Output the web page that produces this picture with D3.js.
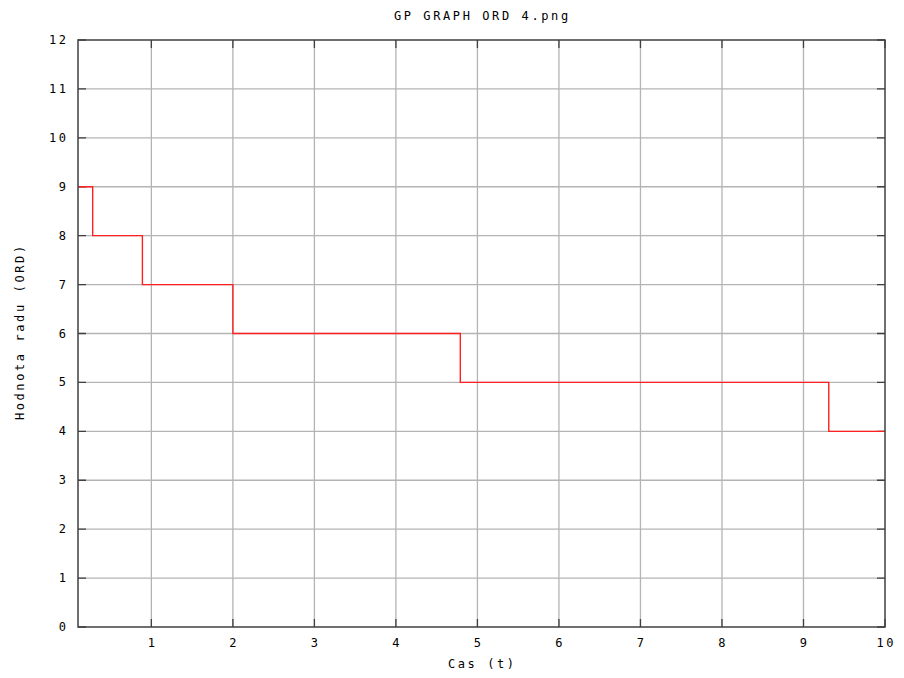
<!DOCTYPE html>
<html><head><meta charset="utf-8">
<script src="https://cdn.jsdelivr.net/npm/d3@7"></script>
<style>body{margin:0;background:#fff}svg{display:block}text{font-family:"DejaVu Sans Mono","Liberation Mono",monospace;font-size:12px;letter-spacing:2.6px;fill:#000}</style>
</head><body><svg id="c" width="904" height="678"></svg>
<script>
const title = "GP GRAPH ORD 4.png";
const xLabel = "Cas (t)";
const yLabel = "Hodnota radu (ORD)";
const stepTimes = [0.1, 0.28, 0.89, 2.0, 4.79, 9.31, 10];
const stepValues = [9, 8, 7, 6, 5, 4, 4];
const xTicks = [1,2,3,4,5,6,7,8,9,10];
const yTicks = [0,1,2,3,4,5,6,7,8,9,10,11,12];

const svg = d3.select("#c");
const L=78, R=885, T=40, B=627;
const ls = 2.6;
const x = d3.scaleLinear().domain([0.1,10]).range([L,R]);
const y = d3.scaleLinear().domain([0,12]).range([B,T]);

const g = svg.append("g");
// grid
g.selectAll(".gx").data(xTicks.filter(d=>d<10)).enter().append("line")
 .attr("x1",d=>x(d)).attr("x2",d=>x(d)).attr("y1",T).attr("y2",B)
 .attr("stroke","#b4b4b4").attr("stroke-width",1.3);
g.selectAll(".gy").data(yTicks.filter(d=>d>0&&d<12)).enter().append("line")
 .attr("x1",L).attr("x2",R).attr("y1",d=>y(d)).attr("y2",d=>y(d))
 .attr("stroke","#b4b4b4").attr("stroke-width",1.3);
// ticks
const tl=8;
g.selectAll(".tx").data(xTicks).enter().append("path")
 .attr("d",d=>`M${x(d)},${B}v${-tl}M${x(d)},${T}v${tl}`)
 .attr("stroke","#404040").attr("stroke-width",1.3);
g.selectAll(".ty").data(yTicks).enter().append("path")
 .attr("d",d=>`M${L},${y(d)}h${tl}M${R},${y(d)}h${-tl}`)
 .attr("stroke","#404040").attr("stroke-width",1.3);
// data line
const line = d3.line().x((d,i)=>x(stepTimes[i])).y(d=>y(d)).curve(d3.curveStepAfter);
g.append("path").datum(stepValues).attr("d",line).attr("fill","none")
 .attr("stroke","#ff2020").attr("stroke-width",1.4);
// frame
g.append("rect").attr("x",L).attr("y",T).attr("width",R-L).attr("height",B-T)
 .attr("fill","none").attr("stroke","#404040").attr("stroke-width",1.5);
// labels
g.selectAll(".lx").data(xTicks).enter().append("text")
 .attr("x",d=>x(d)+ls/2).attr("y",647).attr("text-anchor","middle").text(d=>d);
g.selectAll(".ly").data(yTicks).enter().append("text")
 .attr("x",66+ls).attr("y",d=>y(d)+4).attr("text-anchor","end").text(d=>d);
svg.append("text").attr("x",481+ls/2).attr("y",20).attr("text-anchor","middle").text(title);
svg.append("text").attr("x",481+ls/2).attr("y",668).attr("text-anchor","middle").text(xLabel);
svg.append("text").attr("transform",`translate(24,${333-ls/2}) rotate(-90)`).attr("text-anchor","middle").text(yLabel);
</script></body></html>
